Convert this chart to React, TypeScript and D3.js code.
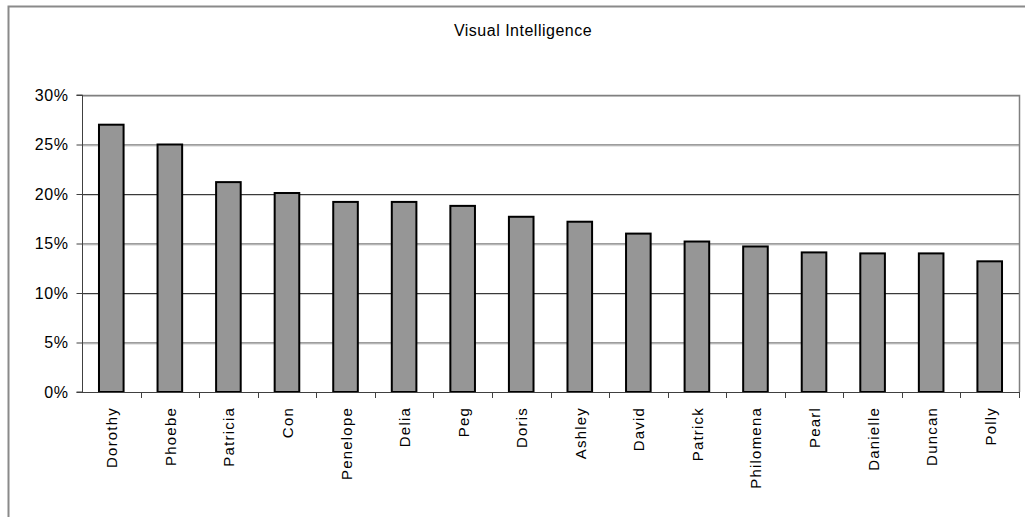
import React, { useEffect, useRef } from "react";
import * as d3 from "d3";

const names = [
  "Dorothy", "Phoebe", "Patricia", "Con", "Penelope", "Delia", "Peg", "Doris",
  "Ashley", "David", "Patrick", "Philomena", "Pearl", "Danielle", "Duncan", "Polly",
];
const scores = [
  0.27, 0.25, 0.212, 0.201, 0.192, 0.192, 0.188, 0.177,
  0.172, 0.16, 0.152, 0.147, 0.141, 0.14, 0.14, 0.132,
];
const yTicks = [0, 0.05, 0.1, 0.15, 0.2, 0.25, 0.3];
const title = "Visual Intelligence";

const App: React.FC = () => {
  const svgRef = useRef<SVGSVGElement>(null);

  useEffect(() => {
    const svg = d3.select(svgRef.current);
    svg.selectAll("*").remove();

    const left = 82;
    const right = 1019;
    const top = 95;
    const bottom = 392;
    const font = "'Liberation Sans', Arial, sans-serif";

    const x = d3.scaleBand<string>().domain(names).range([left, right]).paddingInner(0.58).paddingOuter(0.29);
    const xEdges = d3.scaleBand<string>().domain(names).range([left, right]);
    const y = d3.scaleLinear().domain([0, 0.3]).range([bottom, top]);

    // outer chart frame
    svg.append("path")
      .attr("d", `M8.5,517 V6.5 H1025`)
      .attr("fill", "none")
      .attr("stroke", "#8a8a8a")
      .attr("stroke-width", 2);

    svg.append("text")
      .attr("x", 523)
      .attr("y", 36)
      .attr("text-anchor", "middle")
      .attr("font-family", font)
      .attr("font-size", 16)
      .attr("letter-spacing", 0.5)
      .attr("fill", "#000")
      .text(title);

    // gridlines
    const grid = svg.append("g");
    yTicks.filter((t) => t > 0).forEach((t) => {
      grid.append("line")
        .attr("x1", left).attr("x2", right)
        .attr("y1", y(t) + 0.5).attr("y2", y(t) + 0.5)
        .attr("stroke", "#3a3a3a");
      grid.append("line")
        .attr("x1", left).attr("x2", right)
        .attr("y1", y(t) + 1.5).attr("y2", y(t) + 1.5)
        .attr("stroke", "#d0d0d0");
    });

    // plot area border (top/right)
    svg.append("path")
      .attr("d", `M${left},${top + 0.5} H${right + 0.5} V${bottom}`)
      .attr("fill", "none")
      .attr("stroke", "#808080")
      .attr("stroke-width", 1.5);

    // bars
    svg.append("g")
      .selectAll("rect")
      .data(names)
      .join("rect")
      .attr("x", (d) => x(d) || 0)
      .attr("y", (_, i) => y(scores[i]))
      .attr("width", x.bandwidth())
      .attr("height", (_, i) => bottom - y(scores[i]))
      .attr("fill", "#969696")
      .attr("stroke", "#000")
      .attr("stroke-width", 2);

    // y axis
    const yAxis = d3.axisLeft(y)
      .tickValues(yTicks)
      .tickFormat((d) => `${Math.round(+d * 100)}%`)
      .tickSize(6)
      .tickPadding(8);
    const ya = svg.append("g").attr("transform", `translate(${left + 0.5},0)`).call(yAxis);
    ya.selectAll("path, line").attr("stroke", "#404040");
    ya.select(".domain").attr("d", `M-6,${top}H0V${bottom}H-6`);
    ya.selectAll("text")
      .attr("font-family", font)
      .attr("font-size", 16)
      .attr("letter-spacing", 0.6)
      .attr("fill", "#000");

    // x axis line & ticks at band edges
    const xa = svg.append("g");
    xa.append("line")
      .attr("x1", left).attr("x2", right + 1)
      .attr("y1", bottom + 0.5).attr("y2", bottom + 0.5)
      .attr("stroke", "#404040");
    names.forEach((n) => {
      const ex = (xEdges(n) || 0) + xEdges.bandwidth();
      xa.append("line")
        .attr("x1", Math.round(ex) + 0.5).attr("x2", Math.round(ex) + 0.5)
        .attr("y1", bottom).attr("y2", bottom + 6)
        .attr("stroke", "#404040");
    });

    // category labels
    svg.append("g")
      .selectAll("text")
      .data(names)
      .join("text")
      .attr("transform", (d) => `translate(${(x(d) || 0) + x.bandwidth() / 2 + 6},${bottom + 15}) rotate(-90)`)
      .attr("text-anchor", "end")
      .attr("font-family", font)
      .attr("font-size", 15)
      .attr("letter-spacing", 1.2)
      .attr("fill", "#000")
      .text((d) => d);
  }, []);

  return (
    <svg
      ref={svgRef}
      width={1025}
      height={517}
      style={{ position: "absolute", left: 0, top: 0, background: "#fff" }}
    />
  );
};

export default App;
